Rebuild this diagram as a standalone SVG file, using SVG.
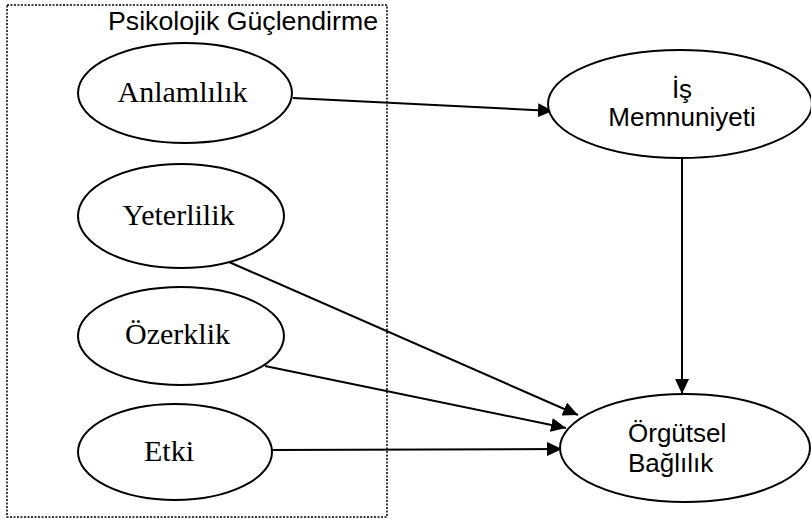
<svg xmlns="http://www.w3.org/2000/svg" width="811" height="519" viewBox="0 0 811 519">
<style>
.node ellipse{fill:#fff;stroke:#000;stroke-width:2}
.serif{font-family:"Liberation Serif","Times New Roman",serif;font-size:30px;fill:#000;text-anchor:middle}
.sans{font-family:"Liberation Sans",Arial,sans-serif;fill:#000}
.conn line{stroke:#000;stroke-width:2}
</style>
<defs>
<marker id="ah" markerUnits="userSpaceOnUse" markerWidth="16" markerHeight="14" refX="15" refY="7" orient="auto">
<path d="M0,0 L15,7 L0,14 z" fill="#000"/>
</marker>
</defs>
<rect id="group-box" x="7" y="5" width="380" height="512" fill="none" stroke="#000" stroke-width="1.5" stroke-dasharray="2,1.5"/>
<text class="sans" x="378" y="30" font-size="25" text-anchor="end" textLength="270" lengthAdjust="spacingAndGlyphs">Psikolojik Güçlendirme</text>
<g class="conn">
<line x1="293" y1="98" x2="553" y2="111" marker-end="url(#ah)"/>
<line x1="682" y1="157" x2="682" y2="394" marker-end="url(#ah)"/>
<line x1="229" y1="262" x2="578" y2="415" marker-end="url(#ah)"/>
<line x1="265" y1="366" x2="566" y2="428" marker-end="url(#ah)"/>
<line x1="272" y1="450" x2="562" y2="449" marker-end="url(#ah)"/>
</g>
<g id="anlamlilik" class="node"><ellipse cx="185" cy="93" rx="107" ry="50"/><text class="serif" x="182.5" y="102">Anlamlılık</text></g>
<g id="yeterlilik" class="node"><ellipse cx="181" cy="216" rx="103" ry="52"/><text class="serif" x="178.5" y="225">Yeterlilik</text></g>
<g id="ozerklik" class="node"><ellipse cx="181" cy="336" rx="103" ry="49"/><text class="serif" x="177.5" y="344">Özerklik</text></g>
<g id="etki" class="node"><ellipse cx="175" cy="452" rx="97" ry="48"/><text class="serif" x="169" y="461">Etki</text></g>
<g id="is-memnuniyeti" class="node"><ellipse cx="680" cy="104" rx="132" ry="54"/><text class="sans" font-size="26" text-anchor="middle"><tspan x="682" y="98">İş</tspan><tspan x="682" y="126">Memnuniyeti</tspan></text></g>
<g id="orgutsel-baglilik" class="node"><ellipse cx="685" cy="448" rx="125" ry="54"/><text class="sans" font-size="26"><tspan x="628" y="442">Örgütsel</tspan><tspan x="628" y="472">Bağlılık</tspan></text></g>
</svg>
